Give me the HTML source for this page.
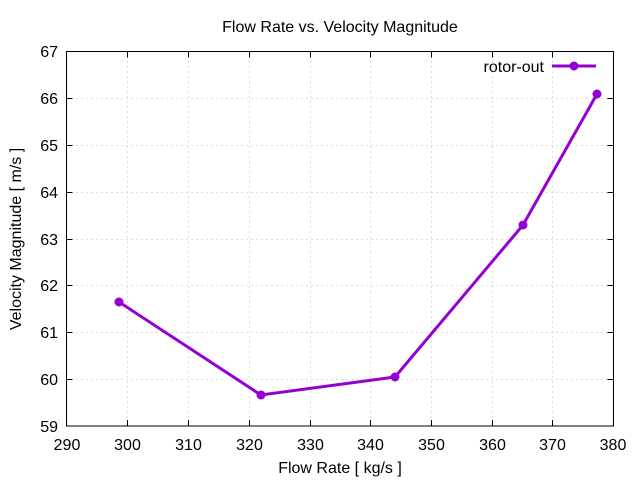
<!DOCTYPE html>
<html><head><style>body{margin:0;background:#fff}svg{display:block}text{font-family:"Liberation Sans",sans-serif;font-size:16px;fill:#000}</style></head><body>
<svg width="640" height="480" viewBox="0 0 640 480">
<g stroke="#bbb" stroke-width="1" stroke-dasharray="1,4">
<line x1="127.5" y1="51.5" x2="127.5" y2="426"/><line x1="188.5" y1="51.5" x2="188.5" y2="426"/><line x1="249.5" y1="51.5" x2="249.5" y2="426"/><line x1="310.5" y1="51.5" x2="310.5" y2="426"/><line x1="370.5" y1="51.5" x2="370.5" y2="426"/><line x1="431.5" y1="51.5" x2="431.5" y2="426"/><line x1="492.5" y1="51.5" x2="492.5" y2="426"/><line x1="552.5" y1="51.5" x2="552.5" y2="426"/>
<line x1="66.5" y1="98.5" x2="613.5" y2="98.5"/><line x1="66.5" y1="145.5" x2="613.5" y2="145.5"/><line x1="66.5" y1="192.5" x2="613.5" y2="192.5"/><line x1="66.5" y1="239.5" x2="613.5" y2="239.5"/><line x1="66.5" y1="285.5" x2="613.5" y2="285.5"/><line x1="66.5" y1="332.5" x2="613.5" y2="332.5"/><line x1="66.5" y1="379.5" x2="613.5" y2="379.5"/>
</g>
<rect x="66.5" y="51.5" width="547" height="374.5" fill="none" stroke="#000" stroke-width="1"/>
<g stroke="#000" stroke-width="1">
<path d="M127.5 426v-6M188.5 426v-6M249.5 426v-6M310.5 426v-6M370.5 426v-6M431.5 426v-6M492.5 426v-6M552.5 426v-6M127.5 51.5v6M188.5 51.5v6M249.5 51.5v6M310.5 51.5v6M370.5 51.5v6M431.5 51.5v6M492.5 51.5v6M552.5 51.5v6"/>
<path d="M66.5 98.5h6M66.5 145.5h6M66.5 192.5h6M66.5 239.5h6M66.5 285.5h6M66.5 332.5h6M66.5 379.5h6M613.5 98.5h-6M613.5 145.5h-6M613.5 192.5h-6M613.5 239.5h-6M613.5 285.5h-6M613.5 332.5h-6M613.5 379.5h-6"/>
</g>
<g text-anchor="middle">
<text x="67" y="450">290</text><text x="127.5" y="450">300</text><text x="188.5" y="450">310</text><text x="249.5" y="450">320</text><text x="310.5" y="450">330</text><text x="370.5" y="450">340</text><text x="431.5" y="450">350</text><text x="492.5" y="450">360</text><text x="552.5" y="450">370</text><text x="613" y="450">380</text>
</g>
<g text-anchor="end">
<text x="58" y="57">67</text><text x="58" y="104">66</text><text x="58" y="151">65</text><text x="58" y="198">64</text><text x="58" y="245">63</text><text x="58" y="291">62</text><text x="58" y="338">61</text><text x="58" y="385">60</text><text x="58" y="432">59</text>
</g>
<text x="340" y="32" text-anchor="middle">Flow Rate vs. Velocity Magnitude</text>
<text x="340" y="473" text-anchor="middle">Flow Rate [ kg/s ]</text>
<text transform="translate(21,239) rotate(-90)" text-anchor="middle">Velocity Magnitude [ m/s ]</text>
<text x="544" y="72" text-anchor="end">rotor-out</text>
<g stroke="#9400d3" stroke-width="3" fill="#9400d3">
<line x1="552" y1="66" x2="596" y2="66"/>
<polyline fill="none" points="119,302 261,395 395,377 523,225 597,94"/>
</g>
<g fill="#9400d3">
<circle cx="574" cy="66" r="4.5"/><circle cx="119" cy="302" r="4.5"/><circle cx="261" cy="395" r="4.5"/><circle cx="395" cy="377" r="4.5"/><circle cx="523" cy="225" r="4.5"/><circle cx="597" cy="94" r="4.5"/>
</g>
</svg>
</body></html>
